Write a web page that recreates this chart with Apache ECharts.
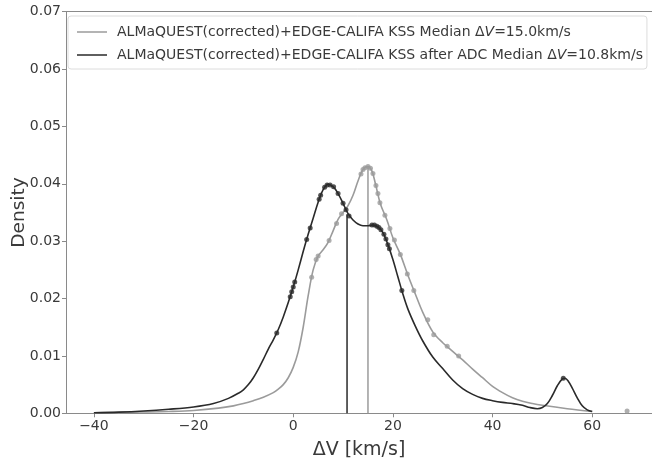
<!DOCTYPE html>
<html>
<head>
<meta charset="utf-8">
<script src="https://cdn.jsdelivr.net/npm/echarts@6/dist/echarts.min.js"></script>
<style>html,body{margin:0;padding:0;background:#fff}#c{width:652px;height:462px}</style>
</head>
<body>
<div id="c"></div>
<script>
// KDE curve for full sample (grey)
const greyX = [-40,-35,-30,-25,-20,-15,-12,-10,-8,-6,-4,-3,-2,-1,0,1,2,3,4,5,6,7,8,9,10,11,12,13,14,15,15.8,16.5,17.5,18.8,20,21.5,23,24.5,26,28,30,32,34,36,38,40,42,44,46,48,50,55,60];
const greyY = [0.0001,0.00015,0.00022,0.00032,0.0005,0.0009,0.0013,0.0017,0.0022,0.0028,0.0036,0.0042,0.0050,0.0062,0.0080,0.0107,0.0150,0.0205,0.0250,0.0274,0.0285,0.0298,0.0318,0.0338,0.0350,0.0362,0.0380,0.0405,0.0425,0.0430,0.0422,0.0400,0.0365,0.0337,0.0306,0.0277,0.0241,0.0208,0.0176,0.0142,0.0123,0.0108,0.0093,0.0077,0.0062,0.0047,0.0036,0.0027,0.0021,0.0017,0.0014,0.0008,0.0003];
// KDE curve after ADC (dark)
const darkX = [-40,-35,-30,-25,-20,-16,-13,-11,-10,-9,-8,-7,-6,-5,-4,-3,-2,-1,0,1,2,3,4,5,6,7,8,9,10,11,12,13,14,15,16,17,18,19,20,21,22,23,24.5,26,28,30,32,34,36,38,40,42,44,46,47.5,49,50,51,52,53,54,54.5,55.2,56,57,58,59,60];
const darkY = [0.0001,0.0002,0.0004,0.0007,0.0011,0.0017,0.0026,0.0035,0.0041,0.0050,0.0062,0.0077,0.0094,0.0112,0.0128,0.0146,0.0168,0.0193,0.0220,0.0250,0.0282,0.0312,0.0340,0.0368,0.0390,0.0399,0.0395,0.0383,0.0366,0.0348,0.0337,0.0330,0.0327,0.0327,0.0328,0.0325,0.0315,0.0294,0.0268,0.0238,0.0208,0.0182,0.0152,0.0126,0.0098,0.0078,0.0058,0.0043,0.0033,0.0026,0.0022,0.0019,0.0017,0.0014,0.0010,0.0008,0.0010,0.0017,0.0031,0.0048,0.0060,0.0061,0.0056,0.0044,0.0027,0.0013,0.0006,0.0003];
// sample points on curves
const greyDotX = [3.7,4.6,5.0,7.2,8.7,9.7,13.6,14.0,14.4,15.0,15.5,16.0,16.6,17.0,17.4,18.4,19.4,20.3,21.5,22.9,24.2,27.0,28.2,30.9,33.2,67.0];
const greyDotY = [0.0237,0.0268,0.0274,0.0301,0.0331,0.0348,0.0417,0.0425,0.0428,0.0430,0.0427,0.0418,0.0397,0.0383,0.0367,0.0345,0.0322,0.0302,0.0277,0.0243,0.0214,0.0163,0.0137,0.0117,0.0100,0.0004];
const darkDotX = [-3.3,-0.6,-0.3,0.0,0.3,2.7,3.4,5.2,5.5,6.3,6.8,7.4,8.1,9.0,10.0,10.6,11.2,15.8,16.3,16.8,17.2,17.6,18.2,18.6,19.0,19.3,21.8,54.2];
const darkDotY = [0.0140,0.0203,0.0212,0.0220,0.0229,0.0303,0.0323,0.0373,0.0380,0.0394,0.0398,0.0398,0.0395,0.0383,0.0366,0.0355,0.0344,0.0328,0.0328,0.0326,0.0324,0.0320,0.0312,0.0304,0.0294,0.0287,0.0214,0.0061];
// medians
const medians = [15.0, 10.8];
const medianHeights = [0.0430, 0.0347];
const seriesNames = ['ALMaQUEST(corrected)+EDGE-CALIFA KSS Median', 'ALMaQUEST(corrected)+EDGE-CALIFA KSS after ADC Median'];
const legendSuffix = ['15.0km/s', '10.8km/s'];
const xTicks = [-40,-20,0,20,40,60];

const GREY = '#9b9b9b', DARK = '#2a2a2a', AX = '#8a8a8a', TXT = '#3a3a3a';
const FONT = 'DejaVu Sans';
const zip = (a,b) => a.map((v,i)=>[v,b[i]]);

const chart = echarts.init(document.getElementById('c'), null, {renderer:'canvas'});
chart.setOption({
  animation:false,
  backgroundColor:'#fff',
  grid:{left:66, right:0, top:11.7, bottom:48.7, containLabel:false, outerBoundsMode:'none'},
  xAxis:[{
    type:'value', min:-45.6, max:72.0,
    axisLine:{show:true, onZero:false, lineStyle:{color:AX, width:1}},
    axisTick:{show:true, customValues:xTicks, length:4, lineStyle:{color:AX}},
    axisLabel:{customValues:xTicks, color:TXT, fontFamily:FONT, fontSize:14, margin:6,
      formatter:v=>String(v).replace('-','\u2212')},
    splitLine:{show:false},
    name:'\u0394V [km/s]', nameLocation:'middle', nameGap:27, nameMoveOverlap:false,
    nameTextStyle:{fontFamily:FONT, fontSize:19, color:TXT}
  },{
    type:'value', position:'top', min:-45.6, max:72.0,
    axisLine:{show:true, onZero:false, lineStyle:{color:AX, width:1}},
    axisTick:{show:false}, axisLabel:{show:false}, splitLine:{show:false}
  }],
  yAxis:{
    type:'value', min:0, max:0.07, interval:0.01,
    axisLine:{show:true, onZero:false, lineStyle:{color:AX, width:1}},
    axisTick:{show:true, length:4, lineStyle:{color:AX}},
    axisLabel:{color:TXT, fontFamily:FONT, fontSize:14, margin:5, formatter:v=>v.toFixed(2)},
    splitLine:{show:false},
    name:'Density', nameLocation:'middle', nameGap:37, nameRotate:90, nameMoveOverlap:false,
    nameTextStyle:{fontFamily:FONT, fontSize:18.5, color:TXT}
  },
  legend:{
    data:seriesNames, orient:'vertical', left:68, top:16,
    icon:'rect', itemWidth:30, itemHeight:1.5, itemGap:7,
    padding:[8,4,6,9],
    backgroundColor:'#fff', borderColor:'#dcdcdc', borderWidth:1, borderRadius:3,
    textStyle:{fontFamily:FONT, fontSize:14, color:TXT, lineHeight:16,
      rich:{
        p:{width:5, height:16},
        n:{fontFamily:FONT, fontSize:14, color:TXT, lineHeight:16},
        i:{fontFamily:FONT, fontSize:14, color:TXT, lineHeight:16, fontStyle:'italic'}}},
    formatter:name=>{
      const k = seriesNames.indexOf(name);
      return '{p|}{n|' + name + ' \u0394}{i|V}{n|=' + legendSuffix[k] + '}';
    }
  },
  series:[
    {name:seriesNames[0], type:'line', data:zip(greyX,greyY), showSymbol:false, smooth:0.35,
      lineStyle:{color:GREY, width:1.6}, itemStyle:{color:GREY}, z:2},
    {name:seriesNames[1], type:'line', data:zip(darkX,darkY), showSymbol:false, smooth:0.35,
      lineStyle:{color:DARK, width:1.6}, itemStyle:{color:DARK}, z:3},
    {type:'line', data:[[medians[0],0],[medians[0],medianHeights[0]]], showSymbol:false,
      lineStyle:{color:GREY, width:1.5}, z:2},
    {type:'line', data:[[medians[1],0],[medians[1],medianHeights[1]]], showSymbol:false,
      lineStyle:{color:DARK, width:1.5}, z:3},
    {type:'scatter', data:zip(greyDotX,greyDotY), symbolSize:5, itemStyle:{color:GREY}, z:4},
    {type:'scatter', data:zip(darkDotX,darkDotY), symbolSize:5, itemStyle:{color:DARK}, z:5}
  ]
});
</script>
</body>
</html>
